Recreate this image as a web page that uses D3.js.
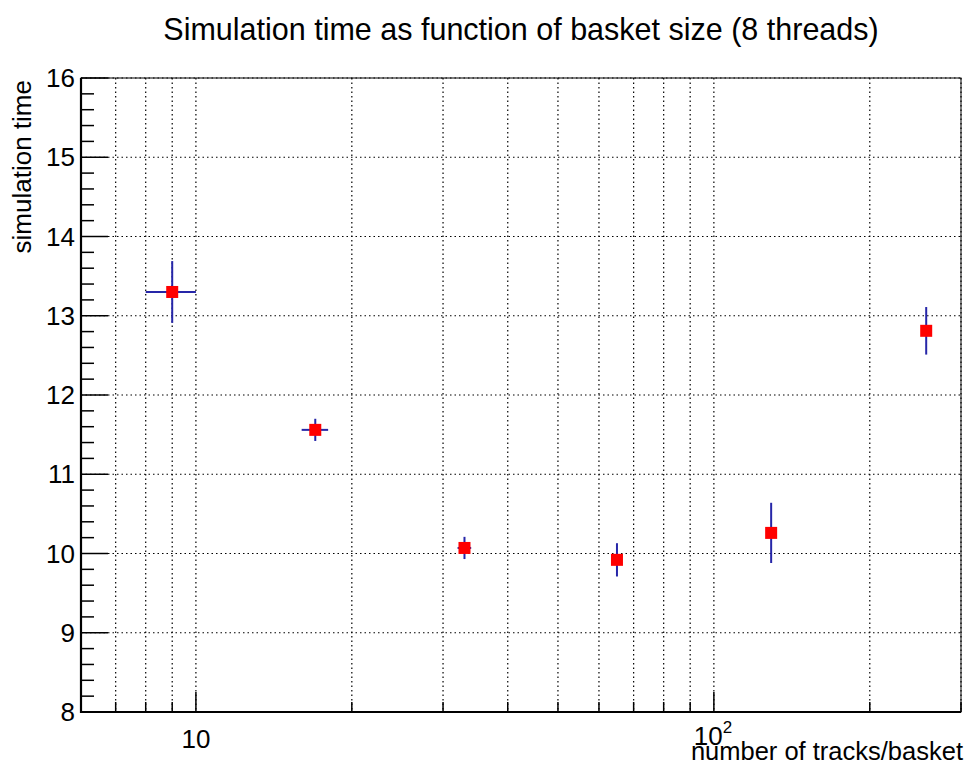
<!DOCTYPE html>
<html>
<head>
<meta charset="utf-8">
<script src="https://cdn.jsdelivr.net/npm/d3@7"></script>
<style>
  body { margin: 0; background: #fff; }
  svg text { font-family: "Liberation Sans", Arial, Helvetica, sans-serif; fill: #000; }
</style>
</head>
<body>
<svg id="chart" width="964" height="767"></svg>
<script>
// data
var basketSize = [9, 17, 33, 65, 129, 257];
var basketErr = [1, 1, 1, 1, 1, 1];
var simTime = [13.30, 11.56, 10.07, 9.92, 10.26, 12.81];
var simErr = [0.39, 0.14, 0.14, 0.21, 0.38, 0.30];

var yMajor = [8, 9, 10, 11, 12, 13, 14, 15, 16];
var xMajor = [10, 100];
var xMinor = [6, 7, 8, 9, 20, 30, 40, 50, 60, 70, 80, 90, 200, 300];

(function() {
    var svg = d3.select('#chart');
    var pLeft = 81, pRight = 961, pTop = 78, pBottom = 712;

    var x = d3.scaleLog().domain([6, 300]).range([pLeft, pRight]);
    var y = d3.scaleLinear().domain([8, 16]).range([pBottom, pTop]);

    // grid
    var grid = svg.append('g')
        .attr('stroke', '#000')
        .attr('stroke-width', 1.2)
        .attr('stroke-dasharray', '1.5,3');
    grid.selectAll('line.gx')
        .data(xMinor.concat(xMajor))
        .enter().append('line')
        .attr('x1', function(d) { return x(d); })
        .attr('x2', function(d) { return x(d); })
        .attr('y1', pTop).attr('y2', pBottom);
    grid.selectAll('line.gy')
        .data(yMajor)
        .enter().append('line')
        .attr('x1', pLeft).attr('x2', pRight)
        .attr('y1', function(d) { return y(d); })
        .attr('y2', function(d) { return y(d); });

    // frame
    svg.append('rect')
        .attr('x', pLeft).attr('y', pTop)
        .attr('width', pRight - pLeft).attr('height', pBottom - pTop)
        .attr('fill', 'none').attr('stroke', '#000').attr('stroke-width', 1);

    // y axis
    var yMinor = d3.range(8, 16.001, 0.2);
    var yAxis = svg.append('g');
    yAxis.selectAll('line')
        .data(yMinor)
        .enter().append('line')
        .attr('x1', pLeft)
        .attr('x2', function(d) { return Math.abs(d - Math.round(d)) < 1e-6 ? pLeft + 27 : pLeft + 13; })
        .attr('y1', function(d) { return y(d); })
        .attr('y2', function(d) { return y(d); })
        .attr('stroke', '#000').attr('stroke-width', 1.5);
    yAxis.append('line')
        .attr('x1', pLeft).attr('x2', pLeft).attr('y1', pTop).attr('y2', pBottom + 1)
        .attr('stroke', '#000').attr('stroke-width', 2.2);
    yAxis.selectAll('text')
        .data(yMajor)
        .enter().append('text')
        .attr('x', pLeft - 6)
        .attr('y', function(d) { return y(d) + 9; })
        .attr('text-anchor', 'end')
        .attr('font-size', 26)
        .text(function(d) { return d; });

    // x axis
    var xAxis = svg.append('g');
    xAxis.selectAll('line')
        .data(xMinor.concat(xMajor))
        .enter().append('line')
        .attr('x1', function(d) { return x(d); })
        .attr('x2', function(d) { return x(d); })
        .attr('y1', pBottom)
        .attr('y2', function(d) { return xMajor.indexOf(d) >= 0 ? pBottom - 20 : pBottom - 10; })
        .attr('stroke', '#000').attr('stroke-width', 1.5);
    xAxis.append('line')
        .attr('x1', pLeft - 1).attr('x2', pRight).attr('y1', pBottom).attr('y2', pBottom)
        .attr('stroke', '#000').attr('stroke-width', 2.2);
    xAxis.append('text')
        .attr('x', x(10)).attr('y', 748)
        .attr('text-anchor', 'middle').attr('font-size', 26)
        .text('10');
    var t2 = xAxis.append('text')
        .attr('x', x(100) - 20).attr('y', 745)
        .attr('font-size', 26);
    t2.append('tspan').text('10');
    t2.append('tspan').attr('dy', -12).attr('font-size', 17).text('2');

    // axis titles
    svg.append('text')
        .attr('x', pRight + 2).attr('y', 760)
        .attr('text-anchor', 'end').attr('font-size', 25.5)
        .text('number of tracks/basket');
    svg.append('text')
        .attr('transform', 'translate(31,' + (pTop + 2) + ') rotate(-90)')
        .attr('text-anchor', 'end').attr('font-size', 26)
        .text('simulation time');

    // title
    svg.append('text')
        .attr('x', (pLeft + pRight) / 2).attr('y', 40)
        .attr('text-anchor', 'middle').attr('font-size', 30.5)
        .text('Simulation time as function of basket size (8 threads)');

    // points with error bars
    var pts = svg.append('g');
    var errColor = '#2626a8';
    basketSize.forEach(function(d, i) {
        pts.append('line')
            .attr('x1', x(d - basketErr[i])).attr('x2', x(d + basketErr[i]))
            .attr('y1', y(simTime[i])).attr('y2', y(simTime[i]))
            .attr('stroke', errColor).attr('stroke-width', 2);
        pts.append('line')
            .attr('x1', x(d)).attr('x2', x(d))
            .attr('y1', y(simTime[i] - simErr[i])).attr('y2', y(simTime[i] + simErr[i]))
            .attr('stroke', errColor).attr('stroke-width', 2);
    });
    pts.selectAll('rect')
        .data(basketSize)
        .enter().append('rect')
        .attr('x', function(d) { return x(d) - 6; })
        .attr('y', function(d, i) { return y(simTime[i]) - 6; })
        .attr('width', 12).attr('height', 12)
        .attr('fill', '#ff0000');
})();
</script>
</body>
</html>
